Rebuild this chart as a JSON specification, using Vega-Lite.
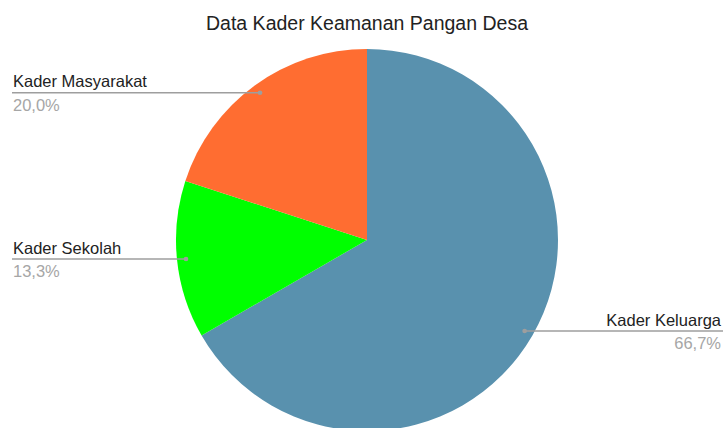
{
  "$schema": "https://vega.github.io/schema/vega-lite/v6.json",
  "autosize": {"type": "none"},
  "width": 712,
  "height": 376,
  "padding": {"left": 11, "top": 52, "right": 0, "bottom": 0},
  "background": "white",
  "title": {
    "text": "Data Kader Keamanan Pangan Desa",
    "font": "Liberation Sans",
    "fontSize": 19.5,
    "fontWeight": "normal",
    "color": "#222222",
    "anchor": "middle",
    "baseline": "alphabetic",
    "offset": 0
  },
  "config": {"view": {"stroke": null}},
  "data": {
    "values": [
      {"k": 1, "kader": "Kader Keluarga", "jumlah": 10, "persen": "66,7%"},
      {"k": 2, "kader": "Kader Sekolah", "jumlah": 2, "persen": "13,3%"},
      {"k": 3, "kader": "Kader Masyarakat", "jumlah": 3, "persen": "20,0%"}
    ]
  },
  "transform": [
    {"joinaggregate": [{"op": "sum", "field": "jumlah", "as": "total"}]},
    {"window": [{"op": "sum", "field": "jumlah", "as": "cum"}], "sort": [{"field": "k"}], "frame": [null, 0]},
    {"calculate": "(datum.cum - datum.jumlah / 2) / datum.total * 2 * PI", "as": "mid"},
    {"calculate": "182 * sin(datum.mid)", "as": "dx"},
    {"calculate": "-182 * cos(datum.mid)", "as": "dy"},
    {"calculate": "datum.dx < 0 ? -1 : 1", "as": "side"},
    {"calculate": "datum.side < 0 ? -355 : 356", "as": "edge"},
    {"calculate": "datum.side < 0 ? -354 : 354", "as": "tx"}
  ],
  "layer": [
    {
      "mark": {"type": "arc", "outerRadius": 191, "stroke": null},
      "encoding": {
        "theta": {"field": "jumlah", "type": "quantitative", "stack": true},
        "order": {"field": "k", "type": "quantitative"},
        "color": {
          "field": "kader",
          "type": "nominal",
          "scale": {
            "domain": ["Kader Keluarga", "Kader Sekolah", "Kader Masyarakat"],
            "range": ["#5991ae", "#00ff00", "#ff6d31"]
          },
          "legend": null
        }
      }
    },
    {
      "mark": {"type": "rule", "color": "#9e9e9e", "strokeWidth": 1.5},
      "encoding": {
        "x": {"field": "dx", "type": "quantitative", "scale": {"domain": [-356, 356], "nice": false, "zero": false}, "axis": null},
        "x2": {"field": "edge"},
        "y": {"field": "dy", "type": "quantitative", "scale": {"domain": [-188, 188], "reverse": true, "nice": false, "zero": false}, "axis": null}
      }
    },
    {
      "mark": {"type": "point", "filled": true, "size": 22, "color": "#9e9e9e", "opacity": 1},
      "encoding": {
        "x": {"field": "dx", "type": "quantitative"},
        "y": {"field": "dy", "type": "quantitative"}
      }
    },
    {
      "transform": [{"filter": "datum.side < 0"}],
      "mark": {"type": "text", "align": "left", "baseline": "alphabetic", "dy": -5.5, "font": "Liberation Sans", "fontSize": 16.5, "color": "#222222"},
      "encoding": {
        "x": {"field": "tx", "type": "quantitative"},
        "y": {"field": "dy", "type": "quantitative"},
        "text": {"field": "kader"}
      }
    },
    {
      "transform": [{"filter": "datum.side < 0"}],
      "mark": {"type": "text", "align": "left", "baseline": "alphabetic", "dy": 18, "font": "Liberation Sans", "fontSize": 16.5, "color": "#a6a6a6"},
      "encoding": {
        "x": {"field": "tx", "type": "quantitative"},
        "y": {"field": "dy", "type": "quantitative"},
        "text": {"field": "persen"}
      }
    },
    {
      "transform": [{"filter": "datum.side > 0"}],
      "mark": {"type": "text", "align": "right", "baseline": "alphabetic", "dy": -5.5, "font": "Liberation Sans", "fontSize": 16.5, "color": "#222222"},
      "encoding": {
        "x": {"field": "tx", "type": "quantitative"},
        "y": {"field": "dy", "type": "quantitative"},
        "text": {"field": "kader"}
      }
    },
    {
      "transform": [{"filter": "datum.side > 0"}],
      "mark": {"type": "text", "align": "right", "baseline": "alphabetic", "dy": 18, "font": "Liberation Sans", "fontSize": 16.5, "color": "#a6a6a6"},
      "encoding": {
        "x": {"field": "tx", "type": "quantitative"},
        "y": {"field": "dy", "type": "quantitative"},
        "text": {"field": "persen"}
      }
    }
  ]
}
